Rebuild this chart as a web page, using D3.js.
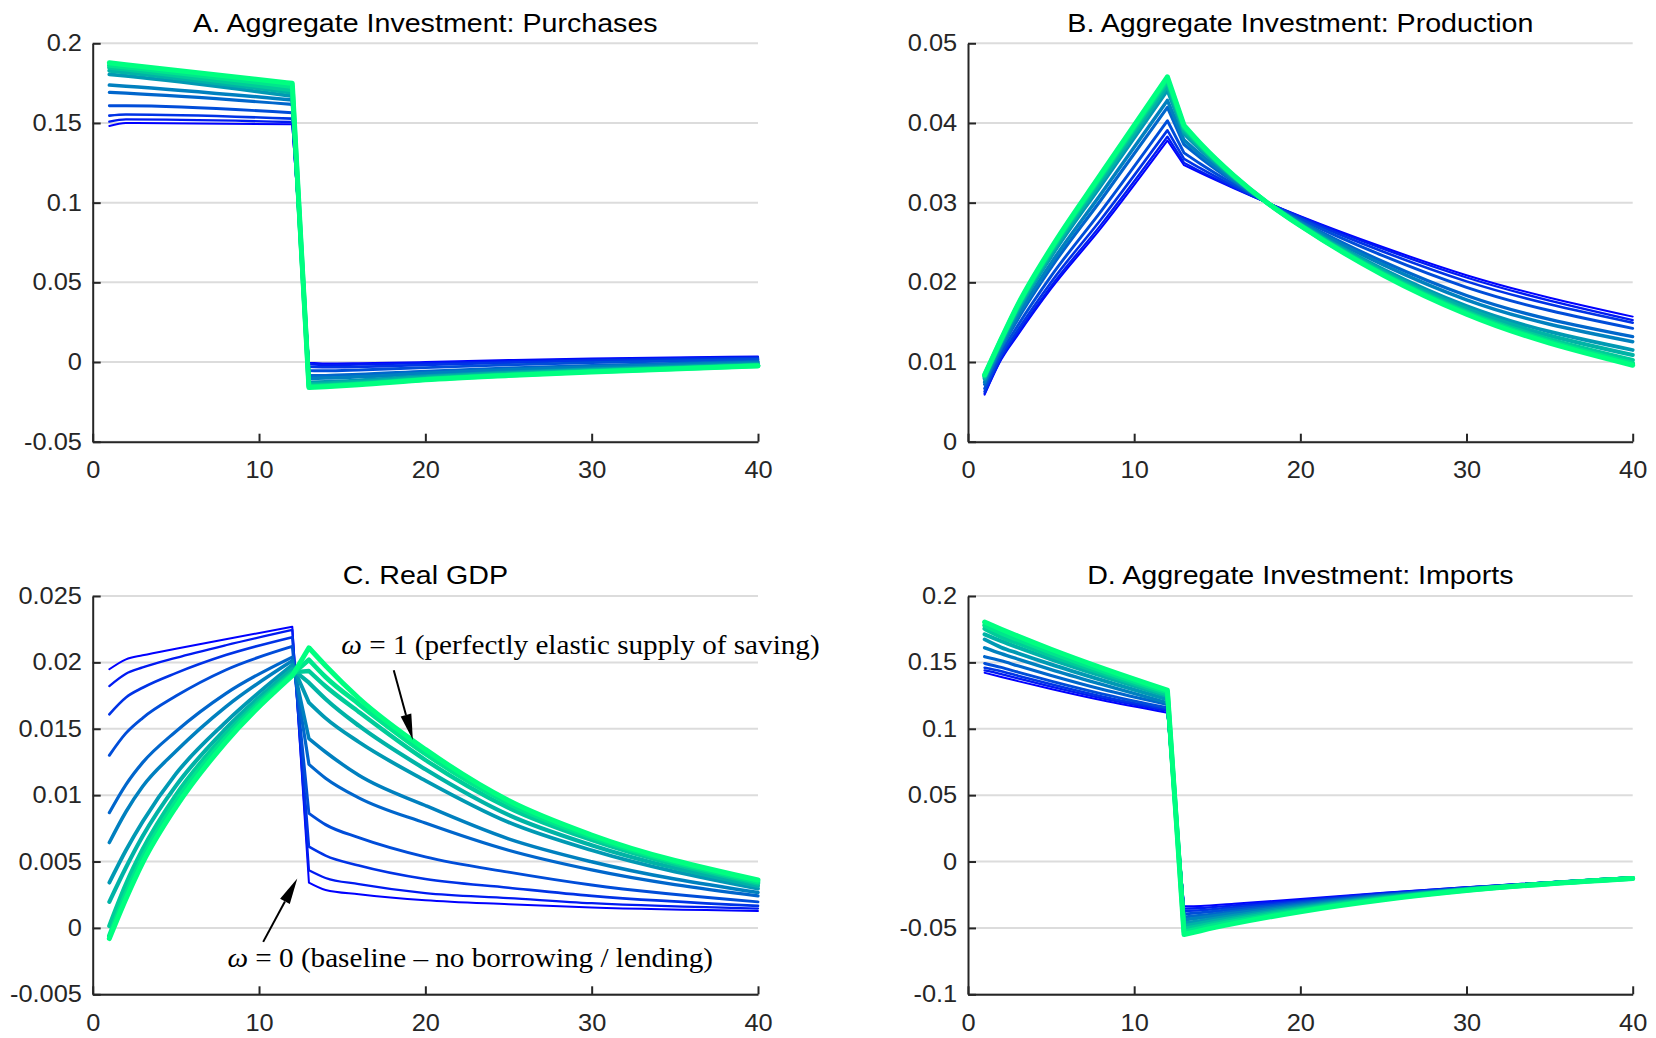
<!DOCTYPE html>
<html>
<head>
<meta charset="utf-8">
<script src="https://cdn.jsdelivr.net/npm/d3@7"></script>
<style>
  html, body { margin: 0; padding: 0; background: #fff; }
  svg { display: block; }
</style>
</head>
<body>
<svg id="fig" width="1656" height="1038"></svg>
<script>
// Borrowing/lending weight, one response path per value (blue = 0 ... green = 1)
const omega = [0, 0.1, 0.2, 0.3, 0.4, 0.5, 0.6, 0.7, 0.8, 0.9, 1];
const xTicks = [0, 10, 20, 30, 40];

// A. Aggregate investment: purchases
const periodsA = [1, 2, 12, 13, 14, 16, 20, 25, 30, 40];
const purchases = [
  [0.1481, 0.1500, 0.1492, -0.0005, -0.0010, -0.0008, 0.0000, 0.0012, 0.0022, 0.0035],
  [0.1508, 0.1522, 0.1506, -0.0014, -0.0019, -0.0016, -0.0007, 0.0006, 0.0017, 0.0031],
  [0.1546, 0.1553, 0.1527, -0.0030, -0.0033, -0.0030, -0.0018, -0.0004, 0.0009, 0.0025],
  [0.1608, 0.1608, 0.1564, -0.0053, -0.0055, -0.0050, -0.0035, -0.0018, -0.0004, 0.0016],
  [0.1692, 0.1687, 0.1617, -0.0086, -0.0085, -0.0078, -0.0058, -0.0038, -0.0022, 0.0004],
  [0.1738, 0.1731, 0.1644, -0.0103, -0.0101, -0.0093, -0.0071, -0.0049, -0.0031, -0.0003],
  [0.1805, 0.1795, 0.1669, -0.0128, -0.0125, -0.0115, -0.0089, -0.0065, -0.0044, -0.0012],
  [0.1828, 0.1817, 0.1690, -0.0138, -0.0135, -0.0124, -0.0096, -0.0071, -0.0050, -0.0017],
  [0.1848, 0.1836, 0.1707, -0.0149, -0.0145, -0.0134, -0.0104, -0.0078, -0.0056, -0.0021],
  [0.1862, 0.1851, 0.1728, -0.0155, -0.0151, -0.0139, -0.0109, -0.0082, -0.0060, -0.0023],
  [0.1878, 0.1866, 0.1749, -0.0160, -0.0155, -0.0143, -0.0112, -0.0085, -0.0062, -0.0025]
];
const yTicksA = [-0.05, 0, 0.05, 0.1, 0.15, 0.2];
const yLabelsA = ["-0.05", "0", "0.05", "0.1", "0.15", "0.2"];

// B. Aggregate investment: production
const periodsB = [1, 2, 3, 5, 8, 12, 13, 14, 16, 18, 20, 25, 30, 40];
const production = [
  [0.0059, 0.0103, 0.0134, 0.0192, 0.0268, 0.0378, 0.0347, 0.0337, 0.0318, 0.0300, 0.0283, 0.0244, 0.0209, 0.0157],
  [0.00605, 0.01046, 0.01363, 0.01951, 0.02721, 0.03828, 0.0350, 0.03392, 0.0319, 0.0300, 0.02823, 0.02419, 0.02061, 0.01527],
  [0.0063, 0.01072, 0.01401, 0.02002, 0.02789, 0.03908, 0.0355, 0.03429, 0.03206, 0.0300, 0.02811, 0.02384, 0.02012, 0.01494],
  [0.00668, 0.01111, 0.01458, 0.02078, 0.02891, 0.04028, 0.03625, 0.03485, 0.0323, 0.0300, 0.02793, 0.02331, 0.01938, 0.01423],
  [0.0072, 0.01165, 0.01538, 0.02185, 0.03034, 0.04196, 0.0373, 0.03562, 0.03263, 0.0300, 0.02768, 0.02258, 0.01835, 0.01318],
  [0.00748, 0.01194, 0.01579, 0.02241, 0.03108, 0.04284, 0.03785, 0.03603, 0.03281, 0.0300, 0.02754, 0.02219, 0.01781, 0.01255],
  [0.00788, 0.01235, 0.0164, 0.02323, 0.03217, 0.04412, 0.03865, 0.03662, 0.03306, 0.0300, 0.02735, 0.02163, 0.01703, 0.01151],
  [0.00805, 0.01254, 0.01667, 0.02359, 0.03265, 0.04468, 0.0390, 0.03688, 0.03318, 0.0300, 0.02727, 0.02139, 0.01669, 0.01088],
  [0.00823, 0.01272, 0.01693, 0.02394, 0.03312, 0.04524, 0.03935, 0.03714, 0.03329, 0.0300, 0.02718, 0.02114, 0.01634, 0.01025],
  [0.00833, 0.01282, 0.01709, 0.02415, 0.0334, 0.04556, 0.03955, 0.03729, 0.03335, 0.0300, 0.02714, 0.0210, 0.01615, 0.00983],
  [0.0084, 0.0129, 0.0172, 0.0243, 0.0336, 0.0458, 0.0397, 0.0374, 0.0334, 0.0300, 0.0271, 0.0209, 0.0160, 0.0096]
];
const yTicksB = [0, 0.01, 0.02, 0.03, 0.04, 0.05];
const yLabelsB = ["0", "0.01", "0.02", "0.03", "0.04", "0.05"];

// C. Real GDP
const periodsC = [1, 2, 3, 5, 8, 12, 13, 14, 16, 20, 25, 30, 40];
const realGdp = [
  [0.01948, 0.02023, 0.02053, 0.02103, 0.02174, 0.02269, 0.00341, 0.00286, 0.00254, 0.00208, 0.00178, 0.00153, 0.00128],
  [0.01822, 0.01915, 0.01962, 0.02034, 0.02129, 0.02244, 0.00434, 0.00376, 0.0033, 0.00262, 0.00225, 0.00186, 0.00146],
  [0.01609, 0.01736, 0.01809, 0.01919, 0.02055, 0.0219, 0.00612, 0.00545, 0.0047, 0.00368, 0.00303, 0.00241, 0.00166],
  [0.0130, 0.01467, 0.01581, 0.01746, 0.01943, 0.0212, 0.00863, 0.00778, 0.0068, 0.00535, 0.0042, 0.00323, 0.00196],
  [0.00868, 0.01080, 0.01245, 0.01480, 0.01765, 0.0204, 0.01232, 0.01128, 0.0098, 0.0079, 0.00585, 0.00437, 0.00241],
  [0.00643, 0.00875, 0.01065, 0.01330, 0.01665, 0.02012, 0.01426, 0.01325, 0.0115, 0.00922, 0.00671, 0.00498, 0.00266],
  [0.00341, 0.00585, 0.0080, 0.0116, 0.0155, 0.0198, 0.01697, 0.0158, 0.0140, 0.0111, 0.00796, 0.00585, 0.00296],
  [0.00196, 0.00455, 0.0069, 0.0107, 0.0150, 0.0195, 0.01847, 0.01725, 0.01523, 0.01195, 0.00851, 0.00623, 0.00316],
  [0.00015, 0.0033, 0.0059, 0.0100, 0.0146, 0.01925, 0.01935, 0.0182, 0.01627, 0.01265, 0.00905, 0.00662, 0.00334],
  [-0.0006, 0.0026, 0.0053, 0.0095, 0.0143, 0.0191, 0.0202, 0.0189, 0.01686, 0.01311, 0.00937, 0.00684, 0.00346],
  [-0.0008, 0.0022, 0.0049, 0.0091, 0.0140, 0.0190, 0.0211, 0.01975, 0.0173, 0.01345, 0.0096, 0.0070, 0.00361]
];
const yTicksC = [-0.005, 0, 0.005, 0.01, 0.015, 0.02, 0.025];
const yLabelsC = ["-0.005", "0", "0.005", "0.01", "0.015", "0.02", "0.025"];

// D. Aggregate investment: imports
const periodsD = [1, 2, 3, 5, 8, 12, 13, 14, 16, 20, 25, 30, 40];
const imports = [
  [0.1422, 0.1390, 0.1359, 0.1299, 0.1216, 0.1121, -0.0337, -0.0335, -0.0318, -0.0283, -0.0235, -0.0193, -0.0118],
  [0.1440, 0.1412, 0.1379, 0.1317, 0.1231, 0.1134, -0.0354, -0.0350, -0.0330, -0.0291, -0.0239, -0.0195, -0.0119],
  [0.1460, 0.1433, 0.1400, 0.1335, 0.1245, 0.1146, -0.0373, -0.0367, -0.0344, -0.0299, -0.0244, -0.0197, -0.0120],
  [0.1492, 0.1462, 0.1427, 0.1359, 0.1265, 0.1158, -0.0395, -0.0385, -0.0359, -0.0309, -0.0249, -0.0200, -0.0121],
  [0.1543, 0.1512, 0.1474, 0.1401, 0.1299, 0.1183, -0.0418, -0.0406, -0.0375, -0.0319, -0.0255, -0.0203, -0.0122],
  [0.1610, 0.1566, 0.1525, 0.1446, 0.1336, 0.1196, -0.0439, -0.0424, -0.0390, -0.0329, -0.0260, -0.0205, -0.0123],
  [0.1673, 0.1613, 0.1569, 0.1485, 0.1368, 0.1221, -0.0465, -0.0447, -0.0408, -0.0340, -0.0267, -0.0209, -0.0124],
  [0.1711, 0.1660, 0.1613, 0.1524, 0.1400, 0.1246, -0.0486, -0.0465, -0.0423, -0.0350, -0.0272, -0.0211, -0.0125],
  [0.1754, 0.1692, 0.1644, 0.1551, 0.1422, 0.1259, -0.0507, -0.0484, -0.0438, -0.0359, -0.0277, -0.0214, -0.0126],
  [0.1779, 0.1721, 0.1671, 0.1575, 0.1441, 0.1276, -0.0529, -0.0502, -0.0453, -0.0369, -0.0283, -0.0216, -0.0127],
  [0.1804, 0.1750, 0.1698, 0.1599, 0.1461, 0.1291, -0.0550, -0.0521, -0.0468, -0.0378, -0.0288, -0.0219, -0.0128]
];
const yTicksD = [-0.1, -0.05, 0, 0.05, 0.1, 0.15, 0.2];
const yLabelsD = ["-0.1", "-0.05", "0", "0.05", "0.1", "0.15", "0.2"];

// Arrow annotations on the real-GDP panel: [period, value] of text anchor, tail and tip
const gdpNotes = [
  { label: "1 (perfectly elastic supply of saving)", at: [14.95, 0.0213], tail: [18.1, 0.0194], tip: [19.25, 0.01415] },
  { label: "0 (baseline \u2013 no borrowing / lending)", at: [8.1, -0.00225], tail: [10.25, -0.00105], tip: [12.3, 0.00372] }
];

// ---------------------------------------------------------------- drawing
const svg = d3.select("#fig");
svg.append("rect").attr("width", 1656).attr("height", 1038).attr("fill", "#fff");

const SX = 1.08;                       // horizontal stretch of all lettering
const SANS = "'Liberation Sans', Arial, Helvetica, sans-serif";
const SERIF = "'Liberation Serif', 'Times New Roman', serif";
const AXIS_COLOR = "#262626";

const panels = [
  { title: "A. Aggregate Investment: Purchases", periods: periodsA, series: purchases, yTicks: yTicksA, yLabels: yLabelsA,
    left: 92.7, right: 758, top: 43.3, bottom: 441.7 },
  { title: "B. Aggregate Investment: Production", periods: periodsB, series: production, yTicks: yTicksB, yLabels: yLabelsB,
    left: 968, right: 1632.7, top: 43.3, bottom: 441.7 },
  { title: "C. Real GDP", periods: periodsC, series: realGdp, yTicks: yTicksC, yLabels: yLabelsC,
    left: 92.7, right: 758, top: 596, bottom: 994.3, notes: gdpNotes },
  { title: "D. Aggregate Investment: Imports", periods: periodsD, series: imports, yTicks: yTicksD, yLabels: yLabelsD,
    left: 968, right: 1632.7, top: 596, bottom: 994.3 }
];

const colorOf = w => d3.rgb(0, Math.round(255 * w), Math.round(255 * (1 - w / 2))).toString();
const widthOf = w => 2 + 3 * w;

panels.forEach(p => {
  const x = d3.scaleLinear().domain([0, 40]).range([p.left, p.right]);
  const y = d3.scaleLinear().domain(d3.extent(p.yTicks)).range([p.bottom, p.top]);
  const g = svg.append("g");

  // horizontal grid
  g.append("g").selectAll("line").data(p.yTicks).join("line")
    .attr("x1", p.left).attr("x2", p.right)
    .attr("y1", d => y(d)).attr("y2", d => y(d))
    .attr("stroke", "#dcdcdc").attr("stroke-width", 2);

  // response paths: pre-shock curve, straight jump between periods 12 and 13, post-shock curve
  const curve = d3.line().x(d => x(d[0])).y(d => y(d[1])).curve(d3.curveMonotoneX);
  const pathOf = vals => {
    const pts = p.periods.map((t, i) => [t, vals[i]]);
    const pre = pts.filter(d => d[0] <= 12), post = pts.filter(d => d[0] >= 13);
    return curve(pre) + curve(post).replace(/^M/, "L");
  };
  g.append("g").selectAll("path").data(p.series).join("path")
    .attr("d", pathOf)
    .attr("fill", "none")
    .attr("stroke", (d, i) => colorOf(omega[i]))
    .attr("stroke-width", (d, i) => widthOf(omega[i]))
    .attr("stroke-linejoin", "round")
    .attr("stroke-linecap", "round");

  // axes with inward ticks
  const xAxis = d3.axisBottom(x).tickValues(xTicks).tickSize(-8).tickSizeOuter(0).tickPadding(20);
  const yAxis = d3.axisLeft(y).tickValues(p.yTicks).tickFormat((d, i) => p.yLabels[i])
    .tickSize(-8).tickSizeOuter(0).tickPadding(10);

  [g.append("g").attr("transform", `translate(0,${p.bottom})`).call(xAxis),
   g.append("g").attr("transform", `translate(${p.left},0)`).call(yAxis)].forEach(ax => {
    ax.select(".domain").attr("stroke", AXIS_COLOR).attr("stroke-width", 2);
    ax.selectAll(".tick line").attr("stroke", AXIS_COLOR).attr("stroke-width", 2);
    ax.selectAll(".tick text")
      .attr("fill", AXIS_COLOR)
      .style("font-family", SANS).style("font-size", "23.5px")
      .attr("transform", `scale(${SX},1)`);
  });

  // panel title
  g.append("text")
    .attr("transform", `translate(${(p.left + p.right) / 2},${p.top - 11.8}) scale(${SX},1)`)
    .attr("text-anchor", "middle")
    .style("font-family", SANS).style("font-size", "26.5px")
    .attr("fill", "#000")
    .text(p.title);

  // annotations
  (p.notes || []).forEach(n => {
    const t = g.append("text")
      .attr("transform", `translate(${x(n.at[0])},${y(n.at[1]) + 9}) scale(${SX},1)`)
      .style("font-family", SERIF).style("font-size", "27px").attr("fill", "#000");
    t.append("tspan").style("font-style", "italic").text("\u03c9");
    t.append("tspan").text(" = " + n.label);

    const x0 = x(n.tail[0]), y0 = y(n.tail[1]), x1 = x(n.tip[0]), y1 = y(n.tip[1]);
    const len = Math.hypot(x1 - x0, y1 - y0), ux = (x1 - x0) / len, uy = (y1 - y0) / len;
    const head = 26, half = 5.5;
    const bx = x1 - ux * head, by = y1 - uy * head;
    g.append("line").attr("x1", x0).attr("y1", y0).attr("x2", bx).attr("y2", by)
      .attr("stroke", "#000").attr("stroke-width", 2);
    g.append("polygon")
      .attr("points", [[x1, y1], [bx - uy * half, by + ux * half], [bx + uy * half, by - ux * half]].map(q => q.join(",")).join(" "))
      .attr("fill", "#000");
  });
});
</script>
</body>
</html>
